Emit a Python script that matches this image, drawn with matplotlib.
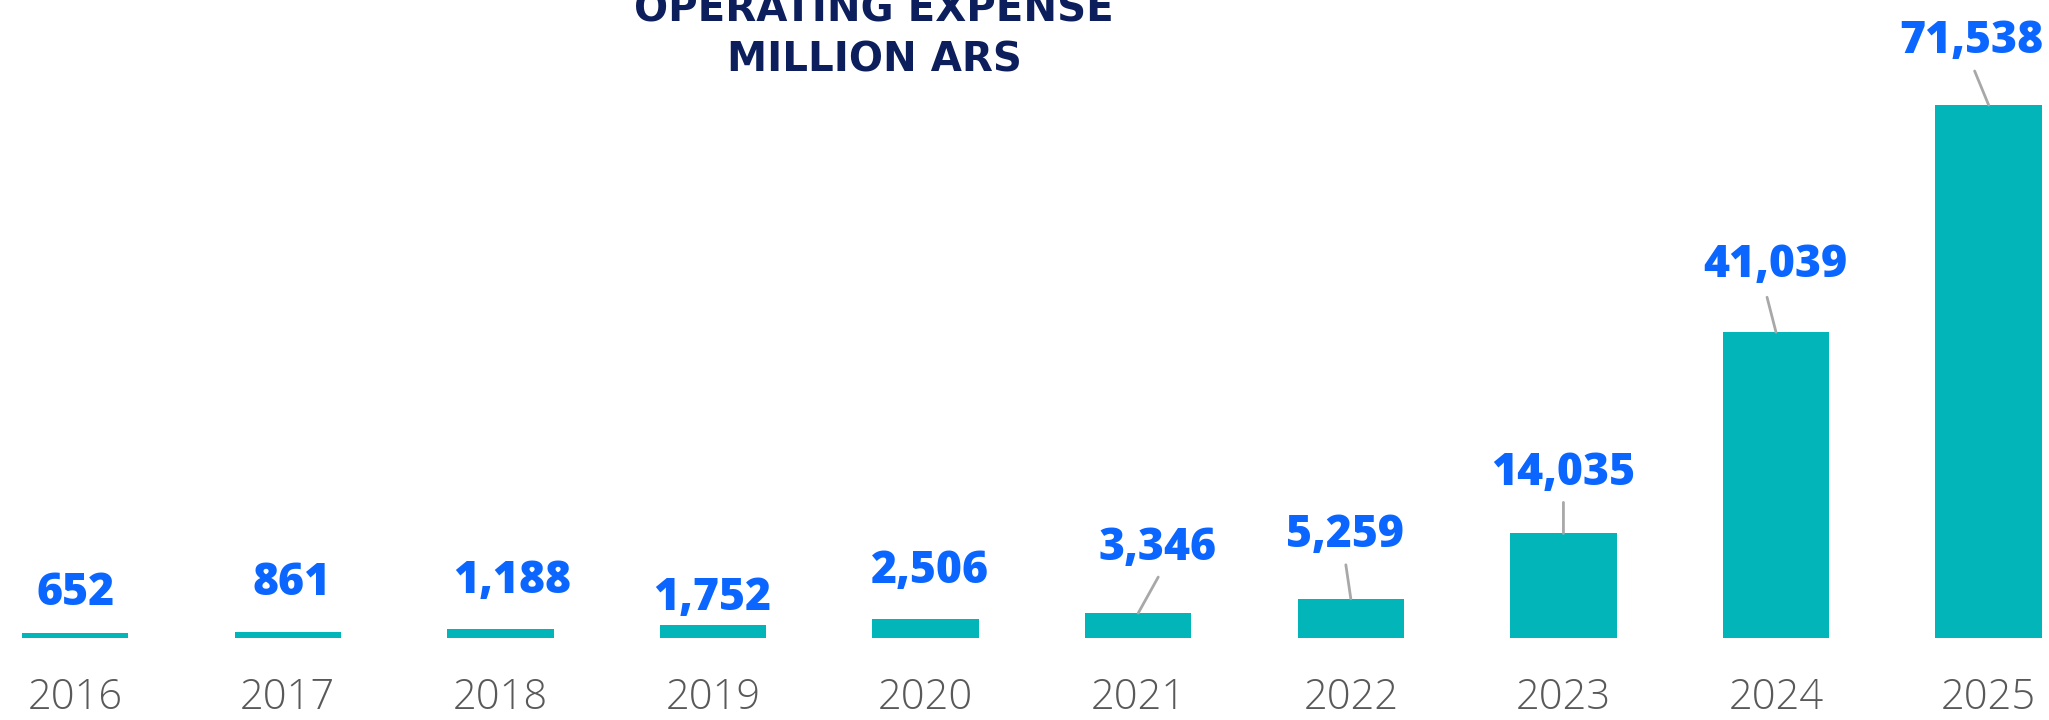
import matplotlib
matplotlib.use("Agg")
import matplotlib.pyplot as plt

# operating expense, million ARS
years = ["2016", "2017", "2018", "2019", "2020", "2021", "2022", "2023", "2024", "2025"]
expense = [652, 861, 1188, 1752, 2506, 3346, 5259, 14035, 41039, 71538]
value_labels = ["652", "861", "1,188", "1,752", "2,506", "3,346", "5,259", "14,035", "41,039", "71,538"]

# label baseline offsets from the bar top (pixels), and leader line starts
label_offsets = [(0, 28), (4, 37), (12, 36), (-1, 15), (4, 36),
                 (19, 53), (-6, 52), (0, 48), (-1, 55), (-17, 52)]
leader_starts = [None, None, None, None, None,
                 (20, 36), (-5, 34), (0, 31), (-9, 35), (-14, 34)]

BAR = "#02b5b8"
BLUE = "#0a66ff"
NAVY = "#0c1f5c"
GREY_TXT = "#595959"
LEADER = "#a8a8a8"

fig = plt.figure(figsize=(20.49, 7.2), dpi=100)
ax = fig.add_axes([0, 82 / 720, 1, 638 / 720])

x = list(range(len(years)))
ax.bar(x, expense, width=0.5, color=BAR)

ax.set_xlim(-0.354, 9.284)
ax.set_ylim(0, 71538 * 638 / 533)

for i, v in enumerate(expense):
    dx, dy = label_offsets[i]
    ax.annotate(value_labels[i], xy=(i, v), xytext=(dx, dy), textcoords="offset pixels",
                ha="center", va="baseline", fontsize=32, fontweight="heavy",
                family="Open Sans", color=BLUE, annotation_clip=False)
    if leader_starts[i] is not None:
        ax.annotate("", xy=(i, v), xytext=leader_starts[i], textcoords="offset pixels",
                    arrowprops=dict(arrowstyle="-", color=LEADER, lw=2,
                                    shrinkA=0, shrinkB=0))

ax.set_xticks(x)
ax.set_xticklabels(years, fontsize=30, family="Open Sans", fontweight="light",
                   color=GREY_TXT)
ax.tick_params(axis="x", length=0, pad=28)
ax.set_yticks([])
for s in ax.spines.values():
    s.set_visible(False)

fig.text(874 / 2049, 1 - 22 / 720, "OPERATING EXPENSE", ha="center", va="baseline",
         fontsize=29, fontweight="bold", family="DejaVu Sans", color=NAVY)
fig.text(874 / 2049, 1 - 72 / 720, "MILLION ARS", ha="center", va="baseline",
         fontsize=29, fontweight="bold", family="DejaVu Sans", color=NAVY)

fig.savefig("out.png", dpi=100)
